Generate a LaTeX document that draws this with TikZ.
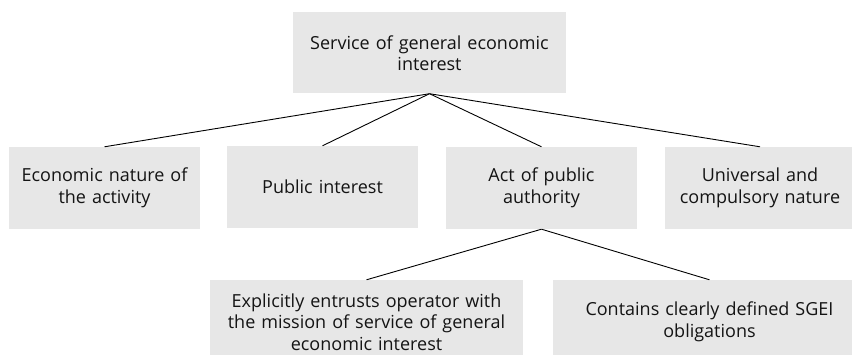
\documentclass[tikz,border=0pt]{standalone}
\usepackage{fontspec}
\setmainfont{Open Sans}
\definecolor{boxgray}{RGB}{231,231,231}
\definecolor{txt}{RGB}{20,20,20}
\begin{document}
\begin{tikzpicture}[x=1pt,y=-1pt,
  box/.style={fill=boxgray,draw=none,inner sep=0pt,align=center,text=txt,
    font=\fontsize{18}{21.5}\selectfont},
  link/.style={draw=black,line width=0.9pt}]
\useasboundingbox (0,0) rectangle (852,355);
\clip (0,0) rectangle (852,355);
\node[box,minimum width=273pt,minimum height=81pt,text width=270pt] (top) at (429.5,53) {Service of general economic\\interest};
\node[box,minimum width=191pt,minimum height=82pt,text width=190pt] (b1) at (104.5,188) {Economic nature of\\the activity};
\node[box,minimum width=191pt,minimum height=82pt,text width=190pt] (b2) at (322.5,187) {Public interest};
\node[box,minimum width=191pt,minimum height=82pt,text width=190pt] (b3) at (541.5,188) {Act of public\\authority};
\node[box,minimum width=191pt,minimum height=82pt,text width=190pt] (b4) at (760,188) {Universal and\\compulsory nature};
\node[box,minimum width=313pt,minimum height=84pt,text width=311pt] (b5) at (366.5,322) {Explicitly entrusts operator with\\the mission of service of general\\economic interest};
\node[box,minimum width=313pt,minimum height=84pt,text width=311pt] (b6) at (709.5,322) {Contains clearly defined SGEI\\obligations};
\draw[link] (top.south) -- (b1.north);
\draw[link] (top.south) -- (b2.north);
\draw[link] (top.south) -- (b3.north);
\draw[link] (top.south) -- (b4.north);
\draw[link] (b3.south) -- (b5.north);
\draw[link] (b3.south) -- (b6.north);
\end{tikzpicture}
\end{document}
